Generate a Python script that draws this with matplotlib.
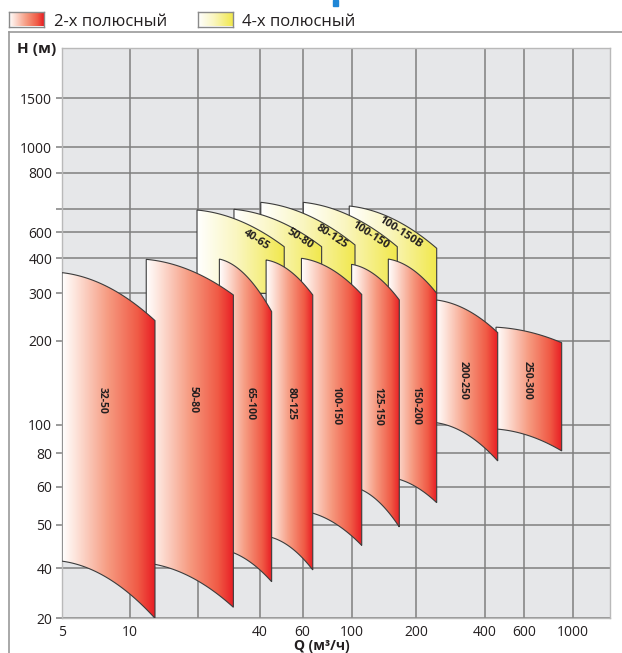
import numpy as np
import matplotlib
matplotlib.use('Agg')
import matplotlib.pyplot as plt
from matplotlib.colors import LinearSegmentedColormap
from matplotlib.patches import Polygon, Rectangle
from matplotlib.lines import Line2D

plt.rcParams['font.family'] = ['Open Sans', 'DejaVu Sans']

# ---------------- data ----------------
x_ticks = [5, 10, 20, 40, 60, 100, 200, 400, 600, 1000]
x_tick_labels = ['5', '10', '', '40', '60', '100', '200', '400', '600', '1000']
y_ticks = [20, 40, 50, 60, 80, 100, 200, 300, 400, 600, 700, 800, 1000, 1500]
y_tick_labels = ['20', '40', '50', '60', '80', '100', '200', '300', '400', '600', '', '800', '1000', '1500']

# 2-pole envelopes
models_2p = ['32-50', '50-80', '65-100', '80-125', '100-150', '125-150', '150-200', '200-250', '250-300']
q_min_2p = [5, 11.8, 25.4, 42.4, 59.4, 99.6, 148.2, 244.4, 448.5]
q_max_2p = [12.9, 29.7, 44.7, 66.7, 111.1, 166.9, 246.2, 456.5, 888.6]
h_top_l_2p = [355.5, 396.6, 397.5, 394.6, 400, 380.6, 397.5, 283.4, 224.5]
h_top_r_2p = [237.5, 295.7, 256.4, 295.7, 297, 283.4, 300, 214.3, 196.7]
h_bot_l_2p = [41.5, 41.1, 44.2, 47.2, 53.5, 60.1, 65.2, 101.7, 96.7]
h_bot_r_2p = [20, 23.3, 33.2, 39.1, 45.0, 49.5, 55.6, 74.9, 81.5]
label_q_2p = [7.5, 19.1, 35.8, 53.8, 84.5, 132, 198.9, 321.8, 617]
label_h_2p = [122.6, 122.6, 119, 119, 116.7, 116.7, 116.7, 144.6, 144.6]

# 4-pole envelopes
models_4p = ['40-65', '50-80', '80-125', '100-150', '100-150B']
q_min_4p = [19.8, 29.9, 40.3, 60.5, 97.2]
q_max_4p = [50.4, 73.1, 103.3, 163.3, 246.2]
h_top_l_4p = [696.6, 700, 718, 718, 708.5]
h_top_r_4p = [479, 479, 492.5, 479, 467.6]
h_bot_l_4p = [300, 300, 300, 300, 300]
h_bot_r_4p = [300, 300, 300, 300, 300]
label_q_4p = [38.6, 58.5, 81.1, 121.5, 169.5]
label_h_4p = [532, 546, 560, 575, 600]

# ---------------- custom (chart-like) scales ----------------
x_knot_vals = [5, 10, 20, 40, 60, 100, 200, 400, 600, 1000, 1500]
x_knot_pos = [62, 130, 198, 260, 302.5, 352, 416, 485, 524, 573, 610]
y_knot_vals = [20, 40, 50, 60, 80, 100, 200, 300, 400, 600, 700, 800, 1000, 1500, 3000]
y_knot_pos = [618.3, 568.3, 525, 486.7, 453.3, 424.7, 340.7, 293.3, 258.3, 232.3, 209.3, 172.7, 147.3, 98.3, 48]

_xl = np.log10(x_knot_vals)
_xp = np.array(x_knot_pos, float)
_yl = np.log10(y_knot_vals)
_yp = -np.array(y_knot_pos, float)


def fx(v):
    v = np.clip(np.asarray(v, float), 1e-6, None)
    return np.interp(np.log10(v), _xl, _xp)


def ix(p):
    return 10 ** np.interp(np.asarray(p, float), _xp, _xl)


def fy(v):
    v = np.clip(np.asarray(v, float), 1e-6, None)
    return np.interp(np.log10(v), _yl, _yp)


def iy(p):
    return 10 ** np.interp(np.asarray(p, float), _yp, _yl)


W, H = 622, 653
fig = plt.figure(figsize=(W / 100, H / 100), dpi=100)
ax = fig.add_axes([62 / W, 1 - 618.3 / H, (610 - 62) / W, (618.3 - 48) / H])
ax.set_facecolor('#e6e7e9')
ax.set_xscale('function', functions=(fx, ix))
ax.set_yscale('function', functions=(fy, iy))
ax.set_xlim(5, 1500)
ax.set_ylim(20, 3000)
ax.set_autoscale_on(False)
ax.set_xticks(x_ticks)
ax.set_xticklabels(x_tick_labels)
ax.set_yticks(y_ticks)
ax.set_yticklabels(y_tick_labels)
ax.xaxis.set_minor_locator(matplotlib.ticker.NullLocator())
ax.yaxis.set_minor_locator(matplotlib.ticker.NullLocator())
ax.grid(True, color='#7f7f7f', lw=1.1)
ax.set_axisbelow(True)
ax.tick_params(axis='x', length=0, pad=4.5, labelsize=10, labelcolor='#231f20')
ax.tick_params(axis='y', length=4, color='#7f7f7f', width=1.1, pad=3, labelsize=10, labelcolor='#231f20')
for s in ax.spines.values():
    s.set_color('#b9b9b9')
    s.set_linewidth(1.0)

red_cmap = LinearSegmentedColormap.from_list('r', [(0, '#ffffff'), (0.15, '#fde3da'), (0.5, '#f69a80'),
                                                  (0.82, '#f05a45'), (1, '#e81d24')])
yel_cmap = LinearSegmentedColormap.from_list('y', [(0, '#ffffff'), (0.45, '#faf6c0'), (1, '#f1e84c')])
grad = np.linspace(0, 1, 256).reshape(1, -1)

X0, X1 = fx(5), fx(1500)


def xfrac(q):
    return (fx(q) - X0) / (X1 - X0)


def draw_shape(q0, q1, ht0, ht1, hb0, hb1, cmap, z, a=0.22, n=80):
    t = np.linspace(0, 1, n)
    Xs = fx(q0) + (fx(q1) - fx(q0)) * t
    s = a * t + (1 - a) * t ** 2
    Yt = fy(ht0) + (fy(ht1) - fy(ht0)) * s
    Yb = fy(hb0) + (fy(hb1) - fy(hb0)) * s
    qs = ix(Xs)
    top = iy(Yt)
    bot = iy(Yb)
    verts = np.vstack([np.column_stack([qs, top]), np.column_stack([qs[::-1], bot[::-1]])])
    poly = Polygon(verts, closed=True, facecolor='none', edgecolor='#3c3c3c', lw=0.8, zorder=z + 0.5)
    ax.add_patch(poly)
    im = ax.imshow(grad, cmap=cmap, extent=(xfrac(q0), xfrac(q1), 0, 1), transform=ax.transAxes,
                   aspect='auto', zorder=z, interpolation='bilinear')
    im.set_clip_path(poly)


# 4-pole (behind), left ones on top
for i in range(len(models_4p)):
    z = 10 - i
    draw_shape(q_min_4p[i], q_max_4p[i], h_top_l_4p[i], h_top_r_4p[i], h_bot_l_4p[i], h_bot_r_4p[i], yel_cmap, z)
    ax.text(label_q_4p[i], label_h_4p[i], models_4p[i], rotation=-33, ha='center', va='center',
            fontsize=8, fontweight='bold', color='#231f20', zorder=z + 0.6)

# 2-pole, left ones on top
for i in range(len(models_2p)):
    z = 40 - 2 * i
    draw_shape(q_min_2p[i], q_max_2p[i], h_top_l_2p[i], h_top_r_2p[i], h_bot_l_2p[i], h_bot_r_2p[i], red_cmap, z)
    ax.text(label_q_2p[i], label_h_2p[i], models_2p[i], rotation=-90, ha='center', va='center',
            fontsize=7.5, fontweight='bold', color='#231f20', zorder=z + 0.6)

# ---------------- legend ----------------
for (x0, cmap, label, tx) in [(9, red_cmap, '2-х полюсный', 54), (198, yel_cmap, '4-х полюсный', 242)]:
    lax = fig.add_axes([x0 / W, 1 - 26.5 / H, 35 / W, 15 / H])
    lax.imshow(grad, cmap=cmap, aspect='auto', interpolation='bilinear')
    lax.set_xticks([])
    lax.set_yticks([])
    for s in lax.spines.values():
        s.set_color('#8a8a8a')
        s.set_linewidth(1.0)
    fig.text(tx / W, 1 - 26 / H, label, fontsize=12, va='baseline', ha='left', color='#231f20')

fig.text(17 / W, 1 - 53.5 / H, 'H (м)', fontsize=11, fontweight='bold', va='baseline', ha='left', color='#231f20')
fig.text(322 / W, 1 - 650 / H, 'Q (м³/ч)', fontsize=10, fontweight='bold', va='baseline', ha='center',
         color='#231f20')

# frame lines
fig.add_artist(Line2D([9 / W, 1], [1 - 32.3 / H, 1 - 32.3 / H], color='#9a9a9a', lw=1.2))
fig.add_artist(Line2D([9 / W, 9 / W], [1 - 32.3 / H, 0], color='#9a9a9a', lw=1.2))
fig.add_artist(Rectangle((333 / W, 1 - 6 / H), 5 / W, 6 / H, color='#1f86d6', transform=fig.transFigure))

fig.savefig('out.png', dpi=100)
